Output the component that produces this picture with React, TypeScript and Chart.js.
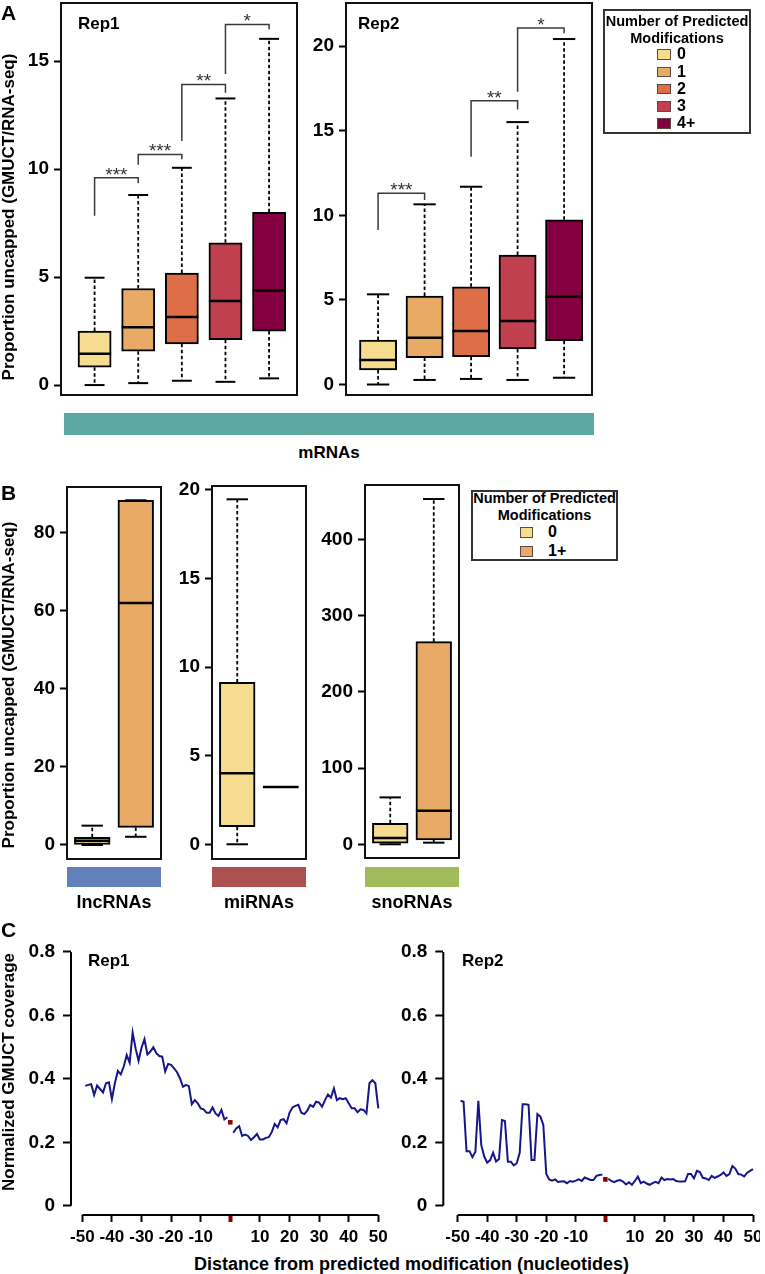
import React, { useEffect, useRef } from 'react';
import { Chart, registerables } from 'chart.js';

Chart.register(...registerables);

const FONT = '"Liberation Sans", Arial, Helvetica, sans-serif';
Chart.defaults.font.family = FONT;
Chart.defaults.color = '#000';

// ---------------- Panel A : mRNAs ----------------
const modLevels = ['0', '1', '2', '3', '4+'];
const modColors = ['#F6DC8E', '#E8AA64', '#DD6E48', '#C0404F', '#850040'];
const modPositions = [1, 2, 3, 4, 5];

const rep1Min = [0, 0.09, 0.2, 0.15, 0.31];
const rep1Q1 = [0.83, 1.57, 1.91, 2.1, 2.5];
const rep1Median = [1.45, 2.68, 3.15, 3.89, 4.38];
const rep1Q3 = [2.5, 4.47, 5.19, 6.59, 8.0];
const rep1Max = [4.97, 8.8, 10.06, 13.27, 16.03];
const rep1Ticks = [0, 5, 10, 15];

const rep1BracketFrom = [1, 2, 3, 4];
const rep1BracketTo = [2, 3, 4, 5];
const rep1BracketStart = [7.84, 10.2, 11.3, 14.4];
const rep1BracketTop = [9.6, 10.68, 13.92, 16.7];
const rep1BracketEnd = [9.35, 10.45, 13.53, 16.47];
const rep1BracketLabels = ['***', '***', '**', '*'];

const rep2Min = [0, 0.27, 0.33, 0.27, 0.4];
const rep2Q1 = [0.86, 1.59, 1.64, 2.1, 2.59];
const rep2Median = [1.45, 2.77, 3.16, 3.75, 5.19];
const rep2Q3 = [2.63, 5.23, 5.78, 7.65, 9.74];
const rep2Max = [5.33, 10.65, 11.69, 15.51, 20.42];
const rep2Ticks = [0, 5, 10, 15, 20];

const rep2BracketFrom = [1, 3, 4];
const rep2BracketTo = [2, 4, 5];
const rep2BracketStart = [9.13, 13.46, 17.3];
const rep2BracketTop = [11.3, 16.77, 21.07];
const rep2BracketEnd = [10.9, 16.26, 20.76];
const rep2BracketLabels = ['***', '**', '*'];

// ---------------- Panel B : ncRNAs ----------------
const ncLevels = ['0', '1+'];
const ncColors = ['#F6DC8E', '#E8AA64'];
const ncPositions = [1, 2];

const lncMin = [0, 2.1];
const lncQ1 = [0, 4.5];
const lncMedian = [1.1, 62.0];
const lncQ3 = [1.97, 88.3];
const lncMax = [4.95, 88.3];
const lncTicks = [0, 20, 40, 60, 80];

const miMin = [0, 3.23];
const miQ1 = [0.99, 3.23];
const miMedian = [4.0, 3.23];
const miQ3 = [9.13, 3.23];
const miMax = [19.46, 3.23];
const miTicks = [0, 5, 10, 15, 20];

const snoMin = [0, 2.1];
const snoQ1 = [1.3, 5.6];
const snoMedian = [8.3, 44.1];
const snoQ3 = [27.5, 265.7];
const snoMax = [61.5, 452.8];
const snoTicks = [0, 100, 200, 300, 400];

// ---------------- Panel C : coverage ----------------
const nucPositions = [
  -49, -48, -47, -46, -45, -44, -43, -42, -41, -40,
  -39, -38, -37, -36, -35, -34, -33, -32, -31, -30,
  -29, -28, -27, -26, -25, -24, -23, -22, -21, -20,
  -19, -18, -17, -16, -15, -14, -13, -12, -11, -10,
  -9, -8, -7, -6, -5, -4, -3, -2, -1, 0,
  1, 2, 3, 4, 5, 6, 7, 8, 9, 10,
  11, 12, 13, 14, 15, 16, 17, 18, 19, 20,
  21, 22, 23, 24, 25, 26, 27, 28, 29, 30,
  31, 32, 33, 34, 35, 36, 37, 38, 39, 40,
  41, 42, 43, 44, 45, 46, 47, 48, 49, 50,
];

const rep1Coverage = [
  0.378, 0.381, 0.383, 0.349, 0.379, 0.368, 0.357, 0.386, 0.389, 0.336,
  0.386, 0.425, 0.414, 0.439, 0.475, 0.451, 0.546, 0.496, 0.457, 0.498,
  0.525, 0.477, 0.486, 0.5, 0.481, 0.472, 0.47, 0.423, 0.447, 0.444,
  0.433, 0.421, 0.402, 0.375, 0.381, 0.377, 0.32, 0.333, 0.323, 0.307,
  0.304, 0.293, 0.293, 0.31, 0.291, 0.283, 0.302, 0.272, 0.279, null,
  0.23, 0.244, 0.251, 0.22, 0.224, 0.22, 0.207, 0.216, 0.226, 0.209,
  0.209, 0.214, 0.216, 0.232, 0.258, 0.247, 0.27, 0.273, 0.26, 0.293,
  0.31, 0.315, 0.318, 0.293, 0.289, 0.3, 0.318, 0.312, 0.328, 0.325,
  0.312, 0.333, 0.351, 0.341, 0.37, 0.333, 0.339, 0.336, 0.339, 0.323,
  0.307, 0.307, 0.295, 0.304, 0.302, 0.291, 0.386, 0.396, 0.386, 0.307,
];
const rep1SiteValue = 0.263;

const rep2Coverage = [
  0.331, 0.328, 0.172, 0.172, 0.153, 0.17, 0.331, 0.191, 0.155, 0.136,
  0.144, 0.167, 0.139, 0.147, 0.27, 0.267, 0.139, 0.139, 0.127, 0.134,
  0.167, 0.32, 0.32, 0.318, 0.144, 0.144, 0.289, 0.281, 0.255, 0.1,
  0.083, 0.079, 0.083, 0.075, 0.076, 0.077, 0.071, 0.078, 0.076, 0.079,
  0.083, 0.078, 0.089, 0.085, 0.081, 0.081, 0.094, 0.097, 0.098, null,
  0.085, 0.078, 0.074, 0.079, 0.081, 0.076, 0.067, 0.074, 0.066, 0.078,
  0.092, 0.071, 0.076, 0.07, 0.066, 0.071, 0.075, 0.071, 0.089, 0.081,
  0.084, 0.083, 0.084, 0.078, 0.076, 0.076, 0.077, 0.1, 0.1, 0.086,
  0.11, 0.106, 0.088, 0.086, 0.081, 0.094, 0.088, 0.092, 0.097, 0.105,
  0.094, 0.1, 0.125, 0.117, 0.1, 0.098, 0.092, 0.104, 0.11, 0.115,
];
const rep2SiteValue = 0.083;

const coverageXTicks = [-50, -40, -30, -20, -10, 0, 10, 20, 30, 40, 50];
const coverageYTicks = [0, 0.2, 0.4, 0.6, 0.8];

const LINE_COLOR = '#16168A';
const SITE_COLOR = '#8B0000';

// ---------------- plugins ----------------
function makeBoxPlugin(s: any) {
  return {
    id: 'boxExtras',
    afterDatasetsDraw(chart: any) {
      const ctx = chart.ctx;
      const xs = chart.scales.x;
      const ys = chart.scales.y;
      const bars = chart.getDatasetMeta(0).data;
      const seg = (x1: number, y1: number, x2: number, y2: number) => {
        ctx.beginPath();
        ctx.moveTo(x1, y1);
        ctx.lineTo(x2, y2);
        ctx.stroke();
      };
      ctx.save();
      ctx.strokeStyle = '#000';
      s.pos.forEach((p: number, i: number) => {
        const cx = xs.getPixelForValue(p);
        const w = bars[i].width;
        const yq1 = ys.getPixelForValue(s.q1[i]);
        const yq3 = ys.getPixelForValue(s.q3[i]);
        const ymin = ys.getPixelForValue(s.min[i]);
        const ymax = ys.getPixelForValue(s.max[i]);
        const ymed = ys.getPixelForValue(s.med[i]);
        ctx.lineWidth = 1.8;
        ctx.setLineDash([3.5, 2.5]);
        if (ymax < yq3 - 0.5) seg(cx, yq3, cx, ymax);
        if (ymin > yq1 + 0.5) seg(cx, yq1, cx, ymin);
        ctx.setLineDash([]);
        ctx.lineWidth = 2;
        const cw = w * 0.3;
        seg(cx - cw, ymax, cx + cw, ymax);
        seg(cx - cw, ymin, cx + cw, ymin);
        ctx.lineWidth = 2.5;
        seg(cx - w / 2, ymed, cx + w / 2, ymed);
      });
      if (s.brFrom) {
        ctx.strokeStyle = '#3a3a3a';
        ctx.lineWidth = 1.5;
        ctx.fillStyle = '#333';
        ctx.font = `19px ${FONT}`;
        ctx.textAlign = 'center';
        ctx.textBaseline = 'alphabetic';
        s.brFrom.forEach((f: number, j: number) => {
          const xl = xs.getPixelForValue(f);
          const xr = xs.getPixelForValue(s.brTo[j]);
          const y0 = ys.getPixelForValue(s.brStart[j]);
          const yt = ys.getPixelForValue(s.brTop[j]);
          const y1 = ys.getPixelForValue(s.brEnd[j]);
          ctx.beginPath();
          ctx.moveTo(xl, y0);
          ctx.lineTo(xl, yt);
          ctx.lineTo(xr, yt);
          ctx.lineTo(xr, y1);
          ctx.stroke();
          ctx.fillText(s.brLabels[j], (xl + xr) / 2, yt + 3);
        });
      }
      ctx.restore();
    },
    afterDraw(chart: any) {
      const { ctx, chartArea } = chart;
      ctx.save();
      ctx.strokeStyle = '#111';
      ctx.lineWidth = 2;
      ctx.strokeRect(chartArea.left, chartArea.top, chartArea.right - chartArea.left, chartArea.bottom - chartArea.top);
      ctx.restore();
    },
  };
}

const axisLinesPlugin = {
  id: 'rAxisLines',
  afterDraw(chart: any) {
    const { ctx, chartArea } = chart;
    const xs = chart.scales.x;
    const ys = chart.scales.y;
    ctx.save();
    ctx.strokeStyle = '#000';
    ctx.lineWidth = 2;
    ctx.beginPath();
    ctx.moveTo(chartArea.left, ys.getPixelForValue(coverageYTicks[0]));
    ctx.lineTo(chartArea.left, ys.getPixelForValue(coverageYTicks[coverageYTicks.length - 1]));
    ctx.moveTo(xs.getPixelForValue(coverageXTicks[0]), chartArea.bottom);
    ctx.lineTo(xs.getPixelForValue(coverageXTicks[coverageXTicks.length - 1]), chartArea.bottom);
    ctx.stroke();
    ctx.restore();
  },
};

// ---------------- config builders ----------------
function boxConfig(o: any) {
  return {
    type: 'bar',
    data: {
      datasets: [
        {
          data: o.pos.map((p: number, i: number) => ({ x: p, y: [o.q1[i], o.q3[i]] })),
          backgroundColor: o.colors,
          borderColor: '#000',
          borderWidth: 2,
          borderSkipped: false,
          barThickness: 'flex',
          barPercentage: o.barPct,
          categoryPercentage: 1,
        },
      ],
    },
    options: {
      responsive: false,
      animation: false,
      events: [],
      layout: { padding: o.padding },
      plugins: { legend: { display: false }, tooltip: { enabled: false } },
      scales: {
        x: { type: 'linear', display: false, min: o.xMin, max: o.xMax, offset: false },
        y: {
          type: 'linear',
          min: o.yMin,
          max: o.yMax,
          afterBuildTicks: (s: any) => {
            s.ticks = o.yTicks.map((v: number) => ({ value: v }));
          },
          afterFit: (s: any) => {
            s.width = o.yAxisWidth;
            s.paddingTop = 0;
            s.paddingBottom = 0;
          },
          ticks: { font: { size: 19, weight: 'bold' }, color: '#000', padding: 5, callback: (v: any) => String(v) },
          grid: { display: true, drawOnChartArea: false, drawTicks: true, tickLength: 7, tickWidth: 2, tickColor: '#000' },
          border: { display: false },
        },
      },
    },
    plugins: [o.plugin],
  };
}

function coverageConfig(o: any) {
  return {
    type: 'line',
    data: {
      datasets: [
        {
          data: nucPositions.map((x, i) => ({ x, y: o.values[i] })),
          borderColor: LINE_COLOR,
          borderWidth: 2,
          pointRadius: 0,
          tension: 0,
          spanGaps: false,
          fill: false,
        },
        {
          data: [{ x: 0, y: o.site }],
          showLine: false,
          pointStyle: 'rect',
          pointRadius: 3.2,
          pointBorderWidth: 0,
          backgroundColor: SITE_COLOR,
          borderColor: SITE_COLOR,
        },
      ],
    },
    options: {
      responsive: false,
      animation: false,
      events: [],
      layout: { padding: o.padding },
      plugins: { legend: { display: false }, tooltip: { enabled: false } },
      scales: {
        x: {
          type: 'linear',
          min: o.xMin,
          max: o.xMax,
          afterBuildTicks: (s: any) => {
            s.ticks = coverageXTicks.map((v) => ({ value: v }));
          },
          afterFit: (s: any) => {
            s.height = 35;
            s.paddingLeft = 0;
            s.paddingRight = 0;
          },
          ticks: {
            autoSkip: false,
            maxRotation: 0,
            minRotation: 0,
            font: { size: 17, weight: 'bold' },
            color: '#000',
            padding: 5,
            callback: (v: any) => (v === 0 ? '' : String(v)),
          },
          grid: {
            display: true,
            drawOnChartArea: false,
            drawTicks: true,
            tickLength: 7,
            tickWidth: (c: any) => (c.tick && c.tick.value === 0 ? 4 : 2),
            tickColor: (c: any) => (c.tick && c.tick.value === 0 ? SITE_COLOR : '#000'),
          },
          border: { display: false },
        },
        y: {
          type: 'linear',
          min: -0.0293,
          max: 0.8126,
          afterBuildTicks: (s: any) => {
            s.ticks = coverageYTicks.map((v) => ({ value: v }));
          },
          afterFit: (s: any) => {
            s.width = o.yAxisWidth;
            s.paddingTop = 0;
            s.paddingBottom = 0;
          },
          ticks: { font: { size: 19, weight: 'bold' }, color: '#000', padding: 8, callback: (v: any) => String(v) },
          grid: { display: true, drawOnChartArea: false, drawTicks: true, tickLength: 8, tickWidth: 2, tickColor: '#000' },
          border: { display: false },
        },
      },
    },
    plugins: [axisLinesPlugin],
  };
}

// ---------------- components ----------------
function ChartBox({ left, top, width, height, make }: any) {
  const ref = useRef<HTMLCanvasElement>(null);
  useEffect(() => {
    const chart = new Chart(ref.current as HTMLCanvasElement, make());
    return () => chart.destroy();
  }, []);
  return (
    <div style={{ position: 'absolute', left, top, width, height }}>
      <canvas ref={ref} width={width} height={height} style={{ width, height, display: 'block' }} />
    </div>
  );
}

function Txt({ x, y, size, anchor = 'start', weight = 700, color = '#000', children }: any) {
  const shift = anchor === 'middle' ? 'translateX(-50%)' : anchor === 'end' ? 'translateX(-100%)' : undefined;
  return (
    <div
      style={{
        position: 'absolute',
        left: x,
        top: y - 0.8465 * size,
        fontSize: size,
        lineHeight: `${size}px`,
        fontWeight: weight,
        fontFamily: FONT,
        color,
        whiteSpace: 'nowrap',
        transform: shift,
      }}
    >
      {children}
    </div>
  );
}

function VTxt({ cx, cy, size, children }: any) {
  return (
    <div
      style={{
        position: 'absolute',
        left: cx,
        top: cy,
        fontSize: size,
        lineHeight: `${size}px`,
        fontWeight: 700,
        fontFamily: FONT,
        whiteSpace: 'nowrap',
        transform: 'translate(-50%,-50%) rotate(-90deg)',
      }}
    >
      {children}
    </div>
  );
}

function Rect({ x, y, w, h, color, border }: any) {
  return (
    <div
      style={{
        position: 'absolute',
        left: x,
        top: y,
        width: w,
        height: h,
        background: color,
        border: border ? `1px solid ${border}` : undefined,
        boxSizing: 'border-box',
      }}
    />
  );
}

export default function App() {
  const rep1Plugin = makeBoxPlugin({
    pos: modPositions, min: rep1Min, q1: rep1Q1, med: rep1Median, q3: rep1Q3, max: rep1Max,
    brFrom: rep1BracketFrom, brTo: rep1BracketTo, brStart: rep1BracketStart, brTop: rep1BracketTop,
    brEnd: rep1BracketEnd, brLabels: rep1BracketLabels,
  });
  const rep2Plugin = makeBoxPlugin({
    pos: modPositions, min: rep2Min, q1: rep2Q1, med: rep2Median, q3: rep2Q3, max: rep2Max,
    brFrom: rep2BracketFrom, brTo: rep2BracketTo, brStart: rep2BracketStart, brTop: rep2BracketTop,
    brEnd: rep2BracketEnd, brLabels: rep2BracketLabels,
  });
  const lncPlugin = makeBoxPlugin({ pos: ncPositions, min: lncMin, q1: lncQ1, med: lncMedian, q3: lncQ3, max: lncMax });
  const miPlugin = makeBoxPlugin({ pos: ncPositions, min: miMin, q1: miQ1, med: miMedian, q3: miQ3, max: miMax });
  const snoPlugin = makeBoxPlugin({ pos: ncPositions, min: snoMin, q1: snoQ1, med: snoMedian, q3: snoQ3, max: snoMax });

  const legendATops = [49.3, 66.6, 83.8, 101, 118.3];
  const legendBTops = [527, 545.5];

  return (
    <div style={{ position: 'absolute', left: 0, top: 0, width: 765, height: 1274, background: '#fff', overflow: 'hidden' }}>
      {/* Panel A */}
      <ChartBox
        left={0} top={0} width={300} height={400}
        make={() =>
          boxConfig({
            pos: modPositions, q1: rep1Q1, q3: rep1Q3, colors: modColors,
            xMin: 0.23, xMax: 5.64, yMin: -0.46, yMax: 17.69, yTicks: rep1Ticks,
            yAxisWidth: 61, padding: { left: 0, top: 3, right: 3, bottom: 5 }, barPct: 0.76, plugin: rep1Plugin,
          })
        }
      />
      <ChartBox
        left={290} top={0} width={305} height={400}
        make={() =>
          boxConfig({
            pos: modPositions, q1: rep2Q1, q3: rep2Q3, colors: modColors,
            xMin: 0.31, xMax: 5.6, yMin: -0.62, yMax: 22.55, yTicks: rep2Ticks,
            yAxisWidth: 56, padding: { left: 0, top: 3, right: 3, bottom: 5 }, barPct: 0.8, plugin: rep2Plugin,
          })
        }
      />

      {/* Panel B */}
      <ChartBox
        left={0} top={480} width={164} height={390}
        make={() =>
          boxConfig({
            pos: ncPositions, q1: lncQ1, q3: lncQ3, colors: ncColors,
            xMin: 0.42, xMax: 2.58, yMin: -3.59, yMax: 91.7, yTicks: lncTicks,
            yAxisWidth: 67, padding: { left: 0, top: 7, right: 3, bottom: 11 }, barPct: 0.82, plugin: lncPlugin,
          })
        }
      />
      <ChartBox
        left={164} top={480} width={145} height={390}
        make={() =>
          boxConfig({
            pos: ncPositions, q1: miQ1, q3: miQ3, colors: ncColors,
            xMin: 0.42, xMax: 2.58, yMin: -0.83, yMax: 20.21, yTicks: miTicks,
            yAxisWidth: 48, padding: { left: 0, top: 6, right: 3, bottom: 11 }, barPct: 0.82, plugin: miPlugin,
          })
        }
      />
      <ChartBox
        left={312} top={480} width={150} height={390}
        make={() =>
          boxConfig({
            pos: ncPositions, q1: snoQ1, q3: snoQ3, colors: ncColors,
            xMin: 0.42, xMax: 2.58, yMin: -18, yMax: 471.2, yTicks: snoTicks,
            yAxisWidth: 53, padding: { left: 0, top: 5, right: 3, bottom: 12 }, barPct: 0.82, plugin: snoPlugin,
          })
        }
      />

      {/* Panel C */}
      <ChartBox
        left={0} top={930} width={390} height={320}
        make={() =>
          coverageConfig({
            values: rep1Coverage, site: rep1SiteValue, xMin: -53.82, xMax: 51.25,
            yAxisWidth: 71, padding: { left: 0, top: 18, right: 8, bottom: 0 },
          })
        }
      />
      <ChartBox
        left={390} top={930} width={370} height={320}
        make={() =>
          coverageConfig({
            values: rep2Coverage, site: rep2SiteValue, xMin: -54.86, xMax: 51.0,
            yAxisWidth: 53.3, padding: { left: 0, top: 18, right: 3, bottom: 0 },
          })
        }
      />

      {/* Panel letters */}
      <Txt x={1} y={20} size={21}>A</Txt>
      <Txt x={1} y={500} size={21}>B</Txt>
      <Txt x={1} y={937} size={21}>C</Txt>

      {/* Panel A texts */}
      <Txt x={78} y={29.5} size={17}>Rep1</Txt>
      <Txt x={358} y={29.5} size={17}>Rep2</Txt>
      <VTxt cx={8} cy={217} size={17}>Proportion uncapped (GMUCT/RNA-seq)</VTxt>
      <Rect x={64} y={413} w={530} h={22} color="#5BA9A0" />
      <Txt x={329} y={458} size={17} anchor="middle">mRNAs</Txt>

      {/* Legend A */}
      <div style={{ position: 'absolute', left: 603, top: 9, width: 148, height: 125, border: '2px solid #333', boxSizing: 'border-box' }} />
      <Txt x={677} y={26.5} size={14.5} anchor="middle">Number of Predicted</Txt>
      <Txt x={677} y={43} size={14.5} anchor="middle">Modifications</Txt>
      {modLevels.map((lv, i) => (
        <React.Fragment key={lv}>
          <Rect x={657} y={legendATops[i]} w={14} h={10.5} color={modColors[i]} border="#5a4a40" />
          <Txt x={677} y={legendATops[i] + 10.5} size={16}>{lv}</Txt>
        </React.Fragment>
      ))}

      {/* Panel B texts */}
      <VTxt cx={8} cy={685} size={17}>Proportion uncapped (GMUCT/RNA-seq)</VTxt>
      <Rect x={67} y={867} w={94} h={20} color="#6281BA" />
      <Rect x={212} y={867} w={94} h={20} color="#AC5150" />
      <Rect x={365} y={867} w={94} h={20} color="#A1BA5A" />
      <Txt x={114} y={908} size={18} anchor="middle">lncRNAs</Txt>
      <Txt x={259} y={908} size={18} anchor="middle">miRNAs</Txt>
      <Txt x={412} y={908} size={18} anchor="middle">snoRNAs</Txt>

      {/* Legend B */}
      <div style={{ position: 'absolute', left: 471, top: 490, width: 147, height: 71, border: '2px solid #333', boxSizing: 'border-box' }} />
      <Txt x={544.5} y={503.5} size={14.5} anchor="middle">Number of Predicted</Txt>
      <Txt x={544.5} y={520} size={14.5} anchor="middle">Modifications</Txt>
      {ncLevels.map((lv, i) => (
        <React.Fragment key={lv}>
          <Rect x={520} y={legendBTops[i]} w={13} h={11} color={ncColors[i]} border="#5a4a40" />
          <Txt x={548} y={legendBTops[i] + 11} size={16}>{lv}</Txt>
        </React.Fragment>
      ))}

      {/* Panel C texts */}
      <Txt x={88} y={966.5} size={17}>Rep1</Txt>
      <Txt x={462} y={966.5} size={17}>Rep2</Txt>
      <VTxt cx={8} cy={1072} size={17}>Normalized GMUCT coverage</VTxt>
      <Txt x={411.5} y={1270} size={18} anchor="middle">Distance from predicted modification (nucleotides)</Txt>
    </div>
  );
}
